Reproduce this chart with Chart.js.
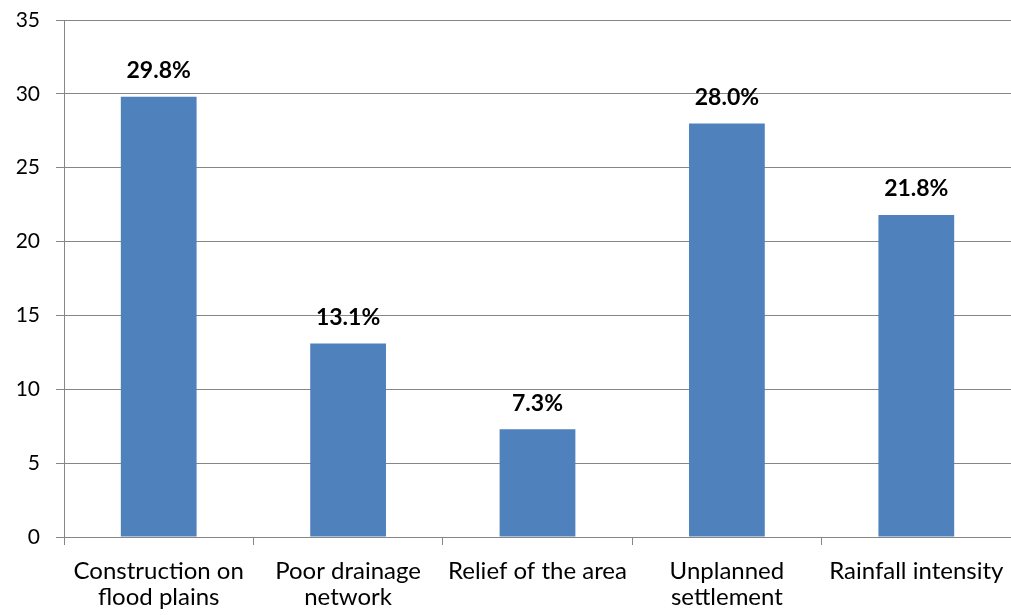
<!DOCTYPE html>
<html>
<head>
<meta charset="utf-8">
<script src="https://cdn.jsdelivr.net/npm/chart.js@4/dist/chart.umd.min.js"></script>
<style>
  html, body { margin: 0; padding: 0; background: #fff; }
  #wrap { width: 1011px; height: 615px; }
</style>
</head>
<body>
<div id="wrap"><canvas id="c" width="1011" height="615"></canvas></div>
<script>
const categories = [
  ['Construction on', 'flood plains'],
  ['Poor drainage', 'network'],
  'Relief of the area',
  ['Unplanned', 'settlement'],
  'Rainfall intensity'
];
const values = [29.8, 13.1, 7.3, 28.0, 21.8];
const yTicks = [0, 5, 10, 15, 20, 25, 30, 35];

const FONT = 'Lato, "Open Sans", sans-serif';
const GRID = '#868686';
const BAR = '#4F81BD';

// Bold percentage over each bar
const valueLabels = {
  id: 'valueLabels',
  afterDatasetsDraw(chart) {
    const ctx = chart.ctx;
    const meta = chart.getDatasetMeta(0);
    ctx.save();
    ctx.font = 'bold 23px ' + FONT;
    ctx.fillStyle = '#000';
    ctx.textAlign = 'center';
    ctx.textBaseline = 'middle';
    meta.data.forEach((bar, i) => {
      ctx.fillText(values[i].toFixed(1) + '%', bar.x, bar.y - 26);
    });
    ctx.restore();
  }
};

// Fixed plot box: no automatic room for edge labels
function clearPadding(scale) {
  scale.paddingTop = 0;
  scale.paddingBottom = 0;
  scale.paddingLeft = 0;
  scale.paddingRight = 0;
}

new Chart(document.getElementById('c'), {
  type: 'bar',
  data: {
    labels: categories,
    datasets: [{
      data: values,
      backgroundColor: BAR,
      borderWidth: 0,
      barPercentage: 0.8,
      categoryPercentage: 0.5
    }]
  },
  options: {
    responsive: false,
    animation: false,
    devicePixelRatio: 1,
    layout: { padding: { top: 20, right: 0, left: 0, bottom: 0 } },
    plugins: {
      legend: { display: false },
      tooltip: { enabled: false }
    },
    scales: {
      x: {
        offset: true,
        grid: {
          offset: true,
          drawOnChartArea: false,
          drawTicks: true,
          tickLength: 8,
          color: GRID
        },
        border: { color: GRID, width: 1 },
        ticks: {
          color: '#000',
          font: { family: FONT, size: 24, lineHeight: 1.1 },
          padding: 13,
          maxRotation: 0,
          autoSkip: false
        },
        afterFit(scale) { scale.height = 78; clearPadding(scale); }
      },
      y: {
        min: 0,
        max: 35,
        afterBuildTicks(scale) { scale.ticks = yTicks.map(v => ({ value: v })); },
        grid: {
          color: GRID,
          tickLength: 8,
          drawTicks: true
        },
        border: { color: GRID, width: 1 },
        ticks: {
          color: '#000',
          font: { family: FONT, size: 21 },
          padding: 16
        },
        afterFit(scale) { scale.width = 64; clearPadding(scale); }
      }
    }
  },
  plugins: [valueLabels]
});
</script>
</body>
</html>
